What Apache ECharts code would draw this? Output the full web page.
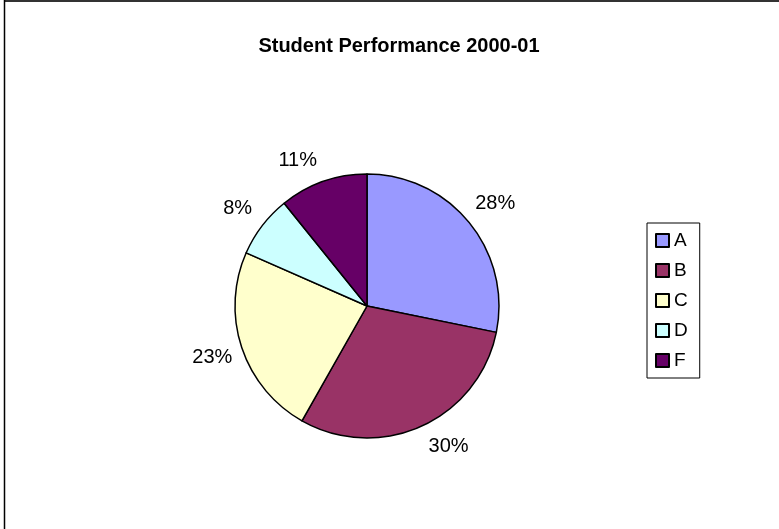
<!DOCTYPE html>
<html>
<head>
<meta charset="utf-8">
<script src="https://cdn.jsdelivr.net/npm/echarts@6/dist/echarts.min.js"></script>
<style>
html,body{margin:0;padding:0;background:#fff;}
#chart{width:779px;height:529px;}
</style>
</head>
<body>
<div id="chart"></div>
<script>
const categories = ['A', 'B', 'C', 'D', 'F'];
const values = [28.2, 30.0, 23.4, 7.6, 10.8];
const colors = ['#9999FF', '#993366', '#FFFFCC', '#CCFFFF', '#660066'];
const titleText = 'Student Performance 2000-01';

// small label nudges (px) mimicking Excel's best-fit placement
const labelNudge = [[2, 1], [14, -8], [0, 0], [0, 2], [-15, 8]];

const chart = echarts.init(document.getElementById('chart'), null, {renderer: 'canvas'});
const font = 'Liberation Sans, Arial, sans-serif';
chart.setOption({
  animation: false,
  backgroundColor: '#ffffff',
  title: {
    text: titleText,
    left: 394, top: 31,
    textAlign: 'center',
    textStyle: {fontFamily: font, fontSize: 20, fontWeight: 'bold', color: '#000'}
  },
  legend: {
    orient: 'vertical',
    left: 647, top: 223,
    padding: [8, 12, 8, 8],
    itemGap: 11,
    itemWidth: 13, itemHeight: 13,
    itemTextGap: 4,
    borderColor: '#000', borderWidth: 1,
    icon: 'rect',
    textStyle: {fontFamily: font, fontSize: 19, color: '#000'},
    itemStyle: {borderColor: '#000', borderWidth: 2},
    data: categories
  },
  series: [{
    type: 'pie',
    center: [367, 306],
    radius: 132,
    startAngle: 90,
    clockwise: true,
    avoidLabelOverlap: false,
    itemStyle: {borderColor: '#000', borderWidth: 1.5},
    label: {
      show: true,
      position: 'outside',
      fontFamily: font, fontSize: 20, color: '#000',
      formatter: p => Math.round(p.percent) + '%'
    },
    labelLine: {show: false, length: 31, length2: 0},
    labelLayout: function (params) {
      const pts = params.labelLinePoints;
      if (!pts) return {};
      const n = labelNudge[params.dataIndex] || [0, 0];
      return {x: pts[1][0] + n[0], y: pts[1][1] + n[1], align: 'center', verticalAlign: 'middle'};
    },
    emphasis: {disabled: true},
    data: categories.map((c, i) => ({name: c, value: values[i], itemStyle: {color: colors[i]}}))
  }],
  graphic: [
    {type: 'line', shape: {x1: 4, y1: 1, x2: 800, y2: 1}, style: {stroke: '#333', lineWidth: 2}},
    {type: 'line', shape: {x1: 4.5, y1: 0, x2: 4.5, y2: 600}, style: {stroke: '#000', lineWidth: 1.5}}
  ]
});
</script>
</body>
</html>
